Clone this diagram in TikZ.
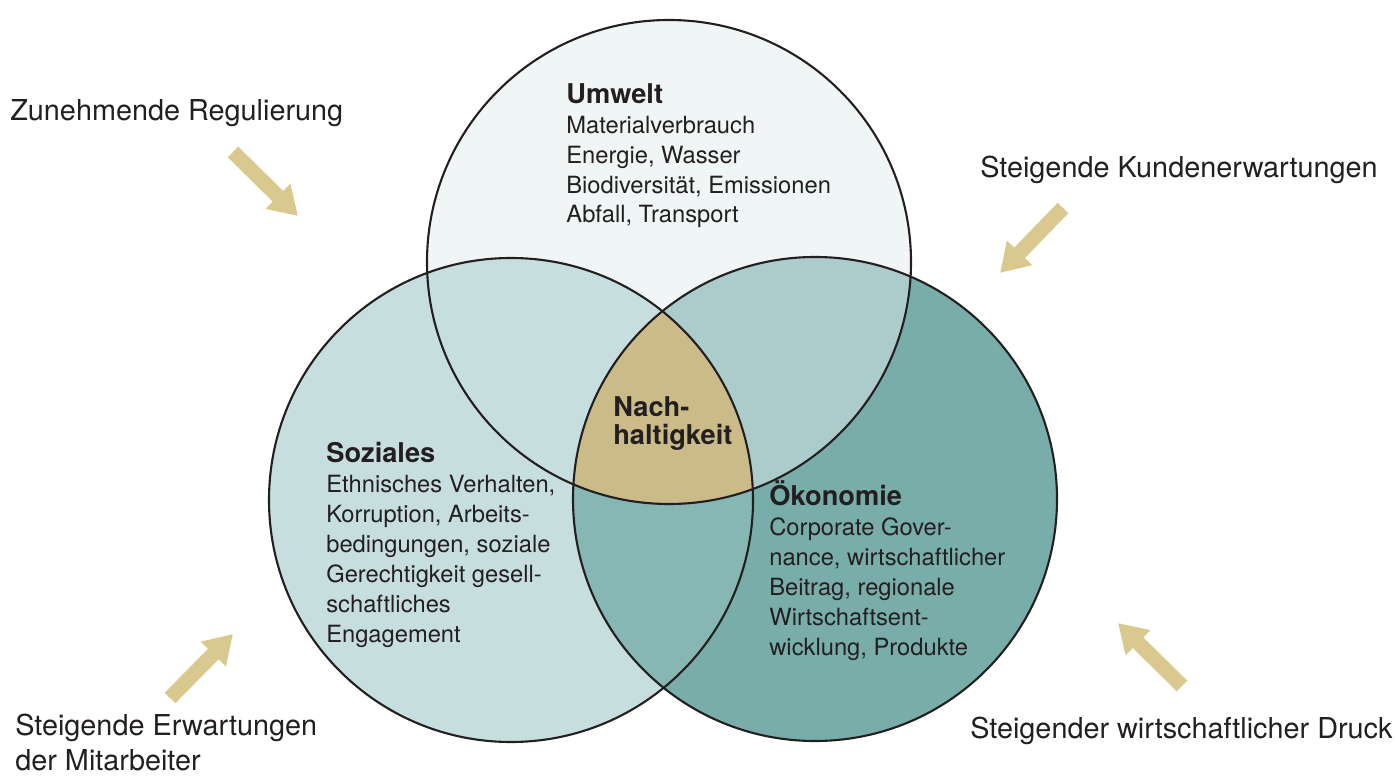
\documentclass[tikz,border=0pt]{standalone}
\usepackage{fontspec}
\setmainfont{TeX Gyre Heros}
\usetikzlibrary{arrows.meta, positioning}
\definecolor{inkGray}{RGB}{35, 31, 32}
\definecolor{umweltFill}{RGB}{239, 246, 245}
\definecolor{sozialFill}{RGB}{199, 222, 222}
\definecolor{oekoFill}{RGB}{120, 173, 170}
\definecolor{umOekoFill}{RGB}{171, 204, 203}
\definecolor{sozOekoFill}{RGB}{134, 183, 180}
\definecolor{coreFill}{RGB}{203, 187, 137}
\definecolor{pushGold}{RGB}{218, 201, 143}
\newcommand{\hd}[1]{{\fontsize{15.5}{17}\selectfont\bfseries #1}}
\tikzset{
    ring/.style={draw=inkGray, line width=1.2pt},
    body/.style={anchor=base west, inner sep=0pt, align=left, text=inkGray, font=\fontsize{13.5}{17}\selectfont},
    outer/.style={anchor=base west, inner sep=0pt, align=left, text=inkGray, font=\fontsize{16.4}{20}\selectfont},
    push/.style={-{Triangle[length=16pt, width=19pt]}, line width=8.5pt, draw=pushGold}
}

\begin{document}
\begin{tikzpicture}[x=0.02cm, y=-0.02cm]
    \useasboundingbox (0,0) rectangle (1399,776);

    % Circle centres
    \coordinate (umweltC) at (669,262);
    \coordinate (sozialC) at (511,500);
    \coordinate (oekoC) at (815,499);
    \def\rad{242}

    % Base fills
    \fill[umweltFill] (umweltC) circle (\rad);
    \fill[sozialFill] (sozialC) circle (\rad);
    \fill[oekoFill] (oekoC) circle (\rad);

    % Overlaps
    \begin{scope}
        \clip (umweltC) circle (\rad);
        \fill[umOekoFill] (oekoC) circle (\rad);
    \end{scope}
    \begin{scope}
        \clip (sozialC) circle (\rad);
        \fill[sozOekoFill] (oekoC) circle (\rad);
        \clip (oekoC) circle (\rad);
        \fill[coreFill] (umweltC) circle (\rad);
    \end{scope}

    % Outlines
    \foreach \c in {umweltC, sozialC, oekoC}
        \draw[ring] (\c) circle (\rad);

    % Circle texts (anchored at the last baseline)
    \node (umwelt) [body] at (566,223) {\hd{Umwelt}\\ Materialverbrauch\\ Energie, Wasser\\ Biodiversität, Emissionen\\ Abfall, Transport};

    \node (soziales) [body] at (326,642) {\hd{Soziales}\\ Ethnisches Verhalten,\\ Korruption, Arbeits-\\ bedingungen, soziale\\ Gerechtigkeit gesell-\\ schaftliches\\ Engagement};

    \node (oekonomie) [body] at (769,655) {\hd{Ökonomie}\\ Corporate Gover-\\ nance, wirtschaftlicher\\ Beitrag, regionale\\ Wirtschaftsent-\\ wicklung, Produkte};

    \node (kern) [body, font=\fontsize{15.5}{16}\selectfont\bfseries] at (613,445) {Nach-\\ haltigkeit};

    % Outer pressures
    \node (regulierung) [outer] at (10,121) {Zunehmende Regulierung};
    \node (kunden) [outer] at (980,178) {Steigende Kundenerwartungen};
    \node (mitarbeiter) [outer, font=\fontsize{16.4}{19.8}\selectfont] at (15,770) {Steigende Erwartungen\\ der Mitarbeiter};
    \node (druck) [outer] at (970,738) {Steigender wirtschaftlicher Druck};

    % Arrows
    \coordinate (regTail) at (233,152);
    \coordinate (regTip) at (298,216);
    \coordinate (kunTail) at (1063,208);
    \coordinate (kunTip) at (1000,273);
    \coordinate (mitTail) at (170,698);
    \coordinate (mitTip) at (233,634);
    \coordinate (druTail) at (1182,686);
    \coordinate (druTip) at (1118,623);

    \draw [push] (regTail) -- (regTip);
    \draw [push] (kunTail) -- (kunTip);
    \draw [push] (mitTail) -- (mitTip);
    \draw [push] (druTail) -- (druTip);

\end{tikzpicture}
\end{document}
